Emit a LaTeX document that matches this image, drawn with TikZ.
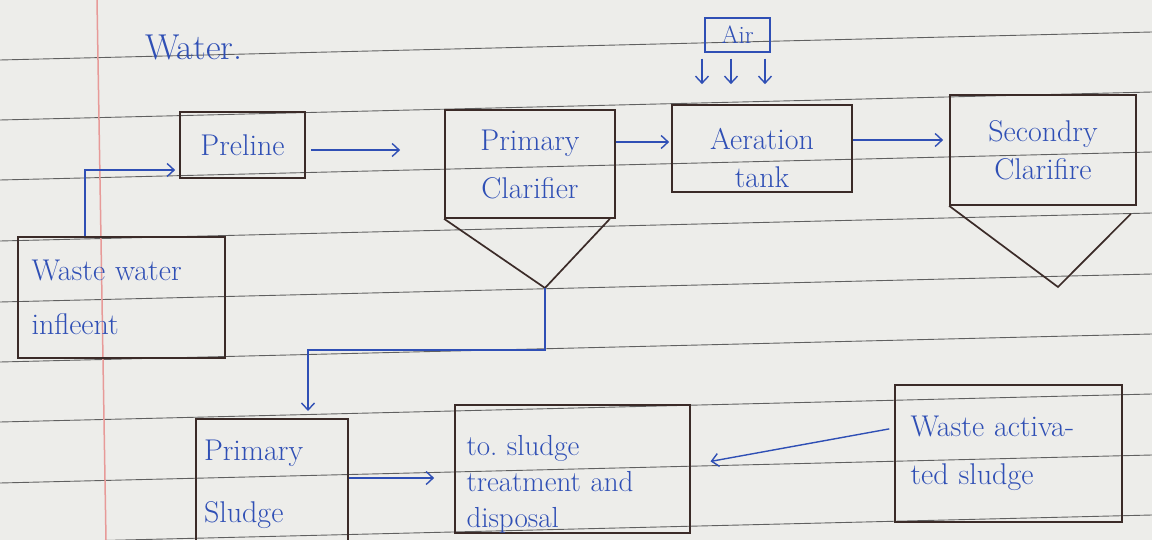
\documentclass[tikz,border=0pt]{standalone}
\usetikzlibrary{arrows.meta}
\definecolor{ink}{HTML}{2F4FB5}
\definecolor{pen}{HTML}{3B2B28}
\definecolor{paper}{HTML}{EDEDEA}
\definecolor{rulecol}{HTML}{606060}
\definecolor{margincol}{HTML}{E79A98}
\begin{document}
\begin{tikzpicture}[x=1pt,y=-1pt,
  box/.style={draw=pen, line width=1.7pt, inner sep=0pt, text=ink, align=left,
    font=\fontsize{30}{44}\selectfont},
  txt/.style={text=ink, inner sep=0pt, align=left, font=\fontsize{30}{44}\selectfont},
  flow/.style={draw=ink, line width=1.4pt, -{Straight Barb[length=7pt,width=13pt,line width=1.4pt]}}]
\useasboundingbox (0,0) rectangle (1152,540);
\clip (0,0) rectangle (1152,540);
\fill[paper] (0,0) rectangle (1152,540);
% ruled paper
\foreach \y in {60,120,180,241,302,362,422,483,543}
  \draw[rulecol, line width=0.9pt] (0,\y) -- (1152,\y-28);
\draw[margincol, line width=1.5pt] (97,0) -- (106,540);

% title fragment
\node[txt, font=\fontsize{36}{40}\selectfont, anchor=base west] (title) at (145,60) {Water.};

% boxes
\node[box, minimum width=125pt, minimum height=66pt, align=center] (pre) at (242.5,145) {Preline};
\node[box, minimum width=170pt, minimum height=108pt, align=center,
  font=\fontsize{30}{48}\selectfont] (pc) at (530,164) {Primary\\Clarifier};
\coordinate (pctip) at (545,288);
\draw[pen, line width=1.7pt] (pc.south west) -- (pctip) -- ([xshift=-6pt]pc.south east);
\node[box, minimum width=180pt, minimum height=87pt, align=center,
  font=\fontsize{30}{38}\selectfont] (aer) at (762,148.5) {\rule{0pt}{40pt}Aeration\\tank};
\node[box, draw=ink, line width=1.4pt, minimum width=65pt, minimum height=34pt,
  font=\fontsize{25}{28}\selectfont, align=center] (air) at (737.5,35) {Air};
\node[box, minimum width=186pt, minimum height=110pt, align=center,
  font=\fontsize{30}{38}\selectfont] (sc) at (1043,150) {Secondry\\Clarifire};
\coordinate (sctip) at (1058,287);
\draw[pen, line width=1.7pt] (sc.south west) -- (sctip) -- ([xshift=-6pt,yshift=-8pt]sc.south east);

\node[box, minimum width=207pt, minimum height=121pt, text width=180pt,
  font=\fontsize{30}{54}\selectfont] (ww) at (121.5,297.5) {Waste water\\infleent};
\node[box, minimum width=152pt, minimum height=130pt, text width=136pt, anchor=north,
  font=\fontsize{30}{56}\selectfont] (ps) at (272,418) {\raisebox{6pt}{Primary}\\Sludge};
\node[box, minimum width=235pt, minimum height=128pt, text width=212pt,
  font=\fontsize{29}{36}\selectfont] (tr) at (572.5,469) {\rule{0pt}{50pt}to.\ sludge\\treatment and\\disposal};
\node[box, minimum width=227pt, minimum height=137pt, text width=196pt,
  font=\fontsize{30}{48}\selectfont] (was) at (1008.5,453.5) {Waste activa-\\ted sludge};

% connectors
\draw[flow, shorten >=4pt] (ww.north -| 85,0) |- (pre.west |- 0,170);
\draw[flow, shorten <=5pt, shorten >=44pt] (pre.east |- 0,150) -- (pc.west |- 0,150);
\draw[flow, shorten >=2pt] (pc.east |- 0,142) -- (aer.west |- 0,142);
\draw[flow, shorten >=6pt] (aer.east |- 0,140) -- (sc.west |- 0,140);
\foreach \x in {702,731,765}
  \draw[flow, shorten <=6pt, shorten >=20pt] (air.south -| \x,0) -- (aer.north -| \x,0);
\draw[flow, shorten >=7pt] (pctip) -- (pctip |- 0,350) -| (ps.north -| 308,0);
\draw[flow, shorten >=20pt] (ps.east |- 0,478) -- (tr.west |- 0,478);
\draw[flow, shorten <=5pt, shorten >=20pt] (was.west |- 0,428) -- (tr.east |- 0,465);
\end{tikzpicture}
\end{document}
